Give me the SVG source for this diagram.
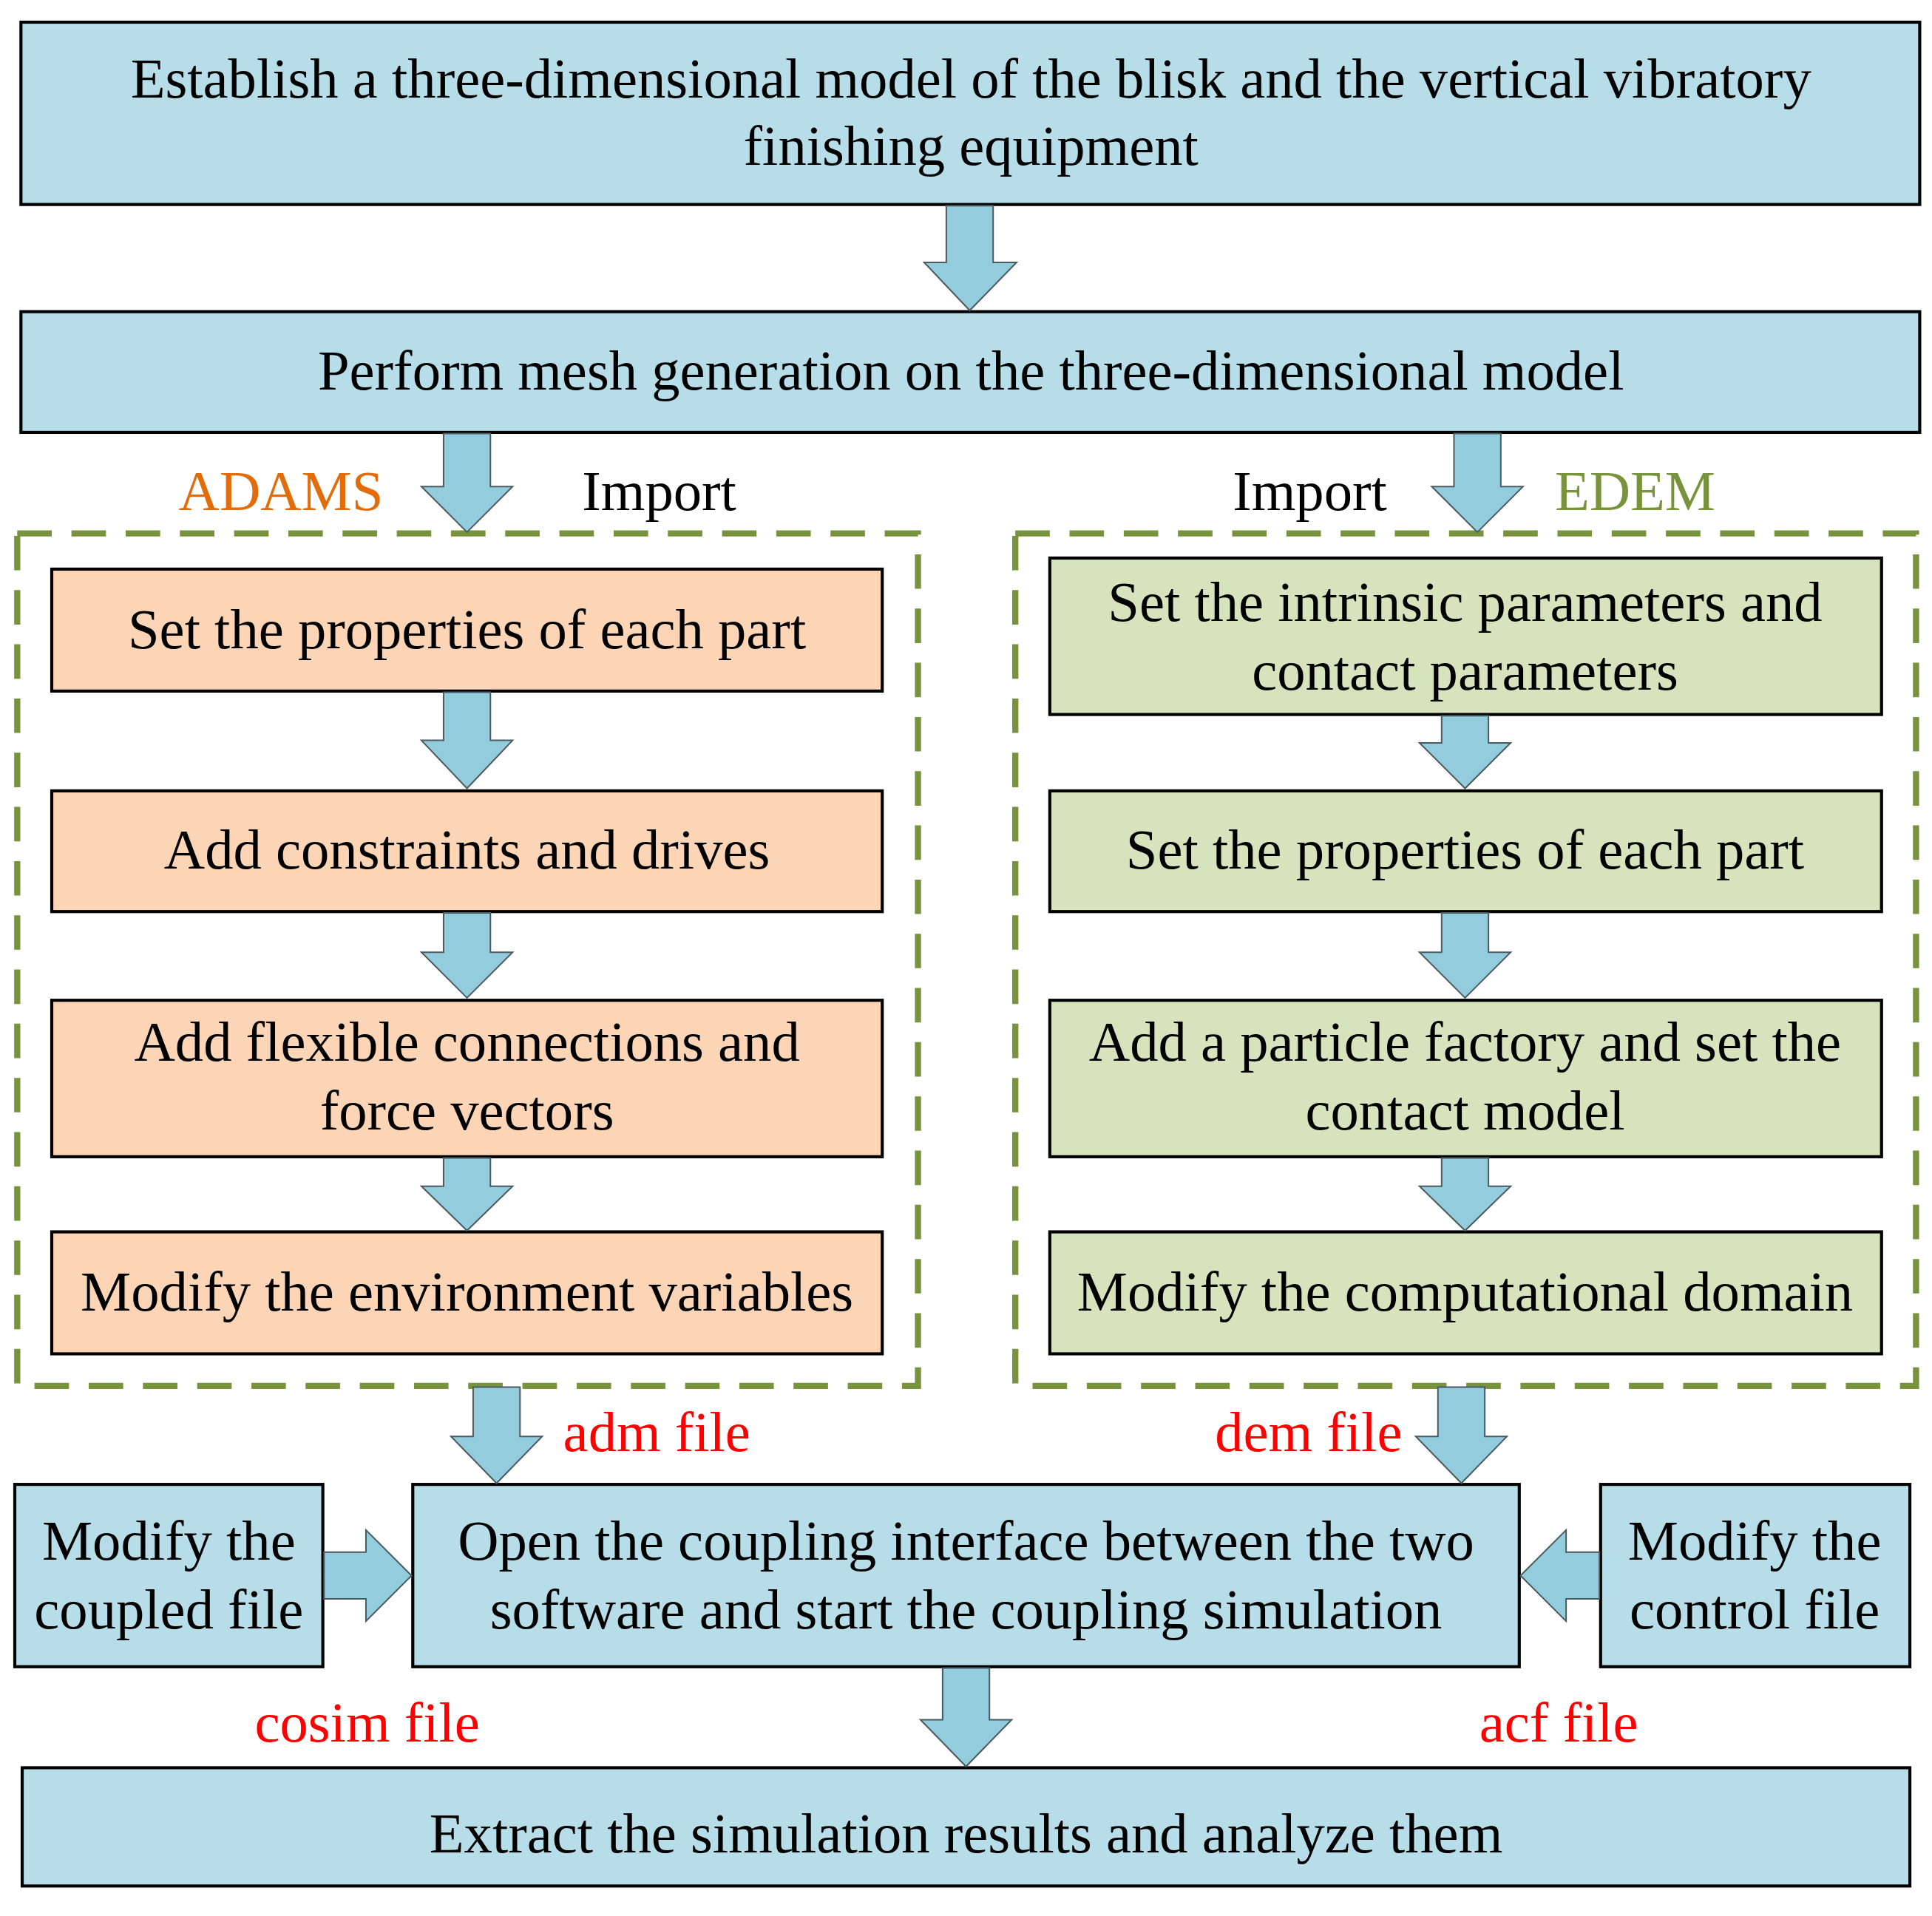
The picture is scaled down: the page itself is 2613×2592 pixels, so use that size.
<svg xmlns="http://www.w3.org/2000/svg" width="2613" height="2592" viewBox="0 0 2613 2592">
<style>
.b{fill:#B7DDE8;stroke:#000;stroke-width:2.5}
.o{fill:#FBD5B5;stroke:#000;stroke-width:2.5}
.g{fill:#D7E3BC;stroke:#000;stroke-width:2.5}
.d{fill:none;stroke:#77933C;stroke-width:5;stroke-dasharray:28,16}
.a{fill:#93CDDD;stroke:#4a5a60;stroke-width:1.2}
text{font-family:"Liberation Serif","Times New Roman",serif;font-size:46px;text-anchor:middle;fill:#000}
.r{fill:#FF0000}
</style>
<rect width="2613" height="2592" fill="#fff"/>
<g transform="scale(1.6665)">
<g id="n1"><rect class="b" x="17" y="18" width="1541" height="148"/><text x="788" y="79">Establish a three-dimensional model of the blisk and the vertical vibratory</text><text x="788" y="134">finishing equipment</text></g>
<g id="n2"><rect class="b" x="17" y="253" width="1541" height="98"/><text x="788" y="316">Perform mesh generation on the three-dimensional model</text></g>
<g id="groups"><rect class="d" x="14" y="433" width="731" height="692"/><rect class="d" x="824" y="433" width="731" height="692"/></g>
<g id="labels">
<text x="228" y="414" style="fill:#E36C0A">ADAMS</text>
<text x="535" y="414">Import</text>
<text x="1063" y="414">Import</text>
<text x="1327" y="414" style="fill:#77933C">EDEM</text>
<text class="r" x="533" y="1178">adm file</text>
<text class="r" x="1062" y="1178">dem file</text>
<text class="r" x="298" y="1414">cosim file</text>
<text class="r" x="1265" y="1414">acf file</text>
</g>
<g id="l1"><rect class="o" x="42" y="462" width="674" height="99"/><text x="379" y="526">Set the properties of each part</text></g>
<g id="l2"><rect class="o" x="42" y="642" width="674" height="98"/><text x="379" y="705">Add constraints and drives</text></g>
<g id="l3"><rect class="o" x="42" y="812" width="674" height="127"/><text x="379" y="861">Add flexible connections and</text><text x="379" y="917">force vectors</text></g>
<g id="l4"><rect class="o" x="42" y="1000" width="674" height="99"/><text x="379" y="1064">Modify the environment variables</text></g>
<g id="r1"><rect class="g" x="852" y="453" width="675" height="127"/><text x="1189" y="504">Set the intrinsic parameters and</text><text x="1189" y="560">contact parameters</text></g>
<g id="r2"><rect class="g" x="852" y="642" width="675" height="98"/><text x="1189" y="705">Set the properties of each part</text></g>
<g id="r3"><rect class="g" x="852" y="812" width="675" height="127"/><text x="1189" y="861">Add a particle factory and set the</text><text x="1189" y="917">contact model</text></g>
<g id="r4"><rect class="g" x="852" y="1000" width="675" height="99"/><text x="1189" y="1064">Modify the computational domain</text></g>
<g id="c"><rect class="b" x="335" y="1205" width="898" height="148"/><text x="784" y="1266">Open the coupling interface between the two</text><text x="784" y="1322">software and start the coupling simulation</text></g>
<g id="cl"><rect class="b" x="12" y="1205" width="250" height="148"/><text x="137" y="1266">Modify the</text><text x="137" y="1322">coupled file</text></g>
<g id="cr"><rect class="b" x="1299" y="1205" width="251" height="148"/><text x="1424" y="1266">Modify the</text><text x="1424" y="1322">control file</text></g>
<g id="n6"><rect class="b" x="18" y="1435" width="1532" height="96"/><text x="784" y="1504">Extract the simulation results and analyze them</text></g>
<g id="connectors">
<polygon class="a" points="768,167 806,167 806,213 825,213 787,252 750,213 768,213"/>
<polygon class="a" points="360,352 398,352 398,395 416,395 379,432 342,395 360,395"/>
<polygon class="a" points="1180,352 1218,352 1218,395 1236,395 1199,432 1162,395 1180,395"/>
<polygon class="a" points="360,562 398,562 398,601 416,601 379,640 342,601 360,601"/>
<polygon class="a" points="360,741 398,741 398,773 416,773 379,810 342,773 360,773"/>
<polygon class="a" points="360,940 398,940 398,963 416,963 379,999 342,963 360,963"/>
<polygon class="a" points="1170,581 1208,581 1208,603 1226,603 1189,640 1152,603 1170,603"/>
<polygon class="a" points="1170,741 1208,741 1208,773 1226,773 1189,810 1152,773 1170,773"/>
<polygon class="a" points="1170,940 1208,940 1208,963 1226,963 1189,999 1152,963 1170,963"/>
<polygon class="a" points="384,1126 422,1126 422,1166 440,1166 403,1204 366,1166 384,1166"/>
<polygon class="a" points="1167,1126 1205,1126 1205,1166 1223,1166 1186,1204 1149,1166 1167,1166"/>
<polygon class="a" points="765,1354 803,1354 803,1396 821,1396 784,1434 747,1396 765,1396"/>
<polygon class="a" points="263,1260 297,1260 297,1242 334,1279 297,1316 297,1298 263,1298"/>
<polygon class="a" points="1298,1260 1271,1260 1271,1242 1234,1279 1271,1316 1271,1298 1298,1298"/>
</g>
</g>
</svg>
